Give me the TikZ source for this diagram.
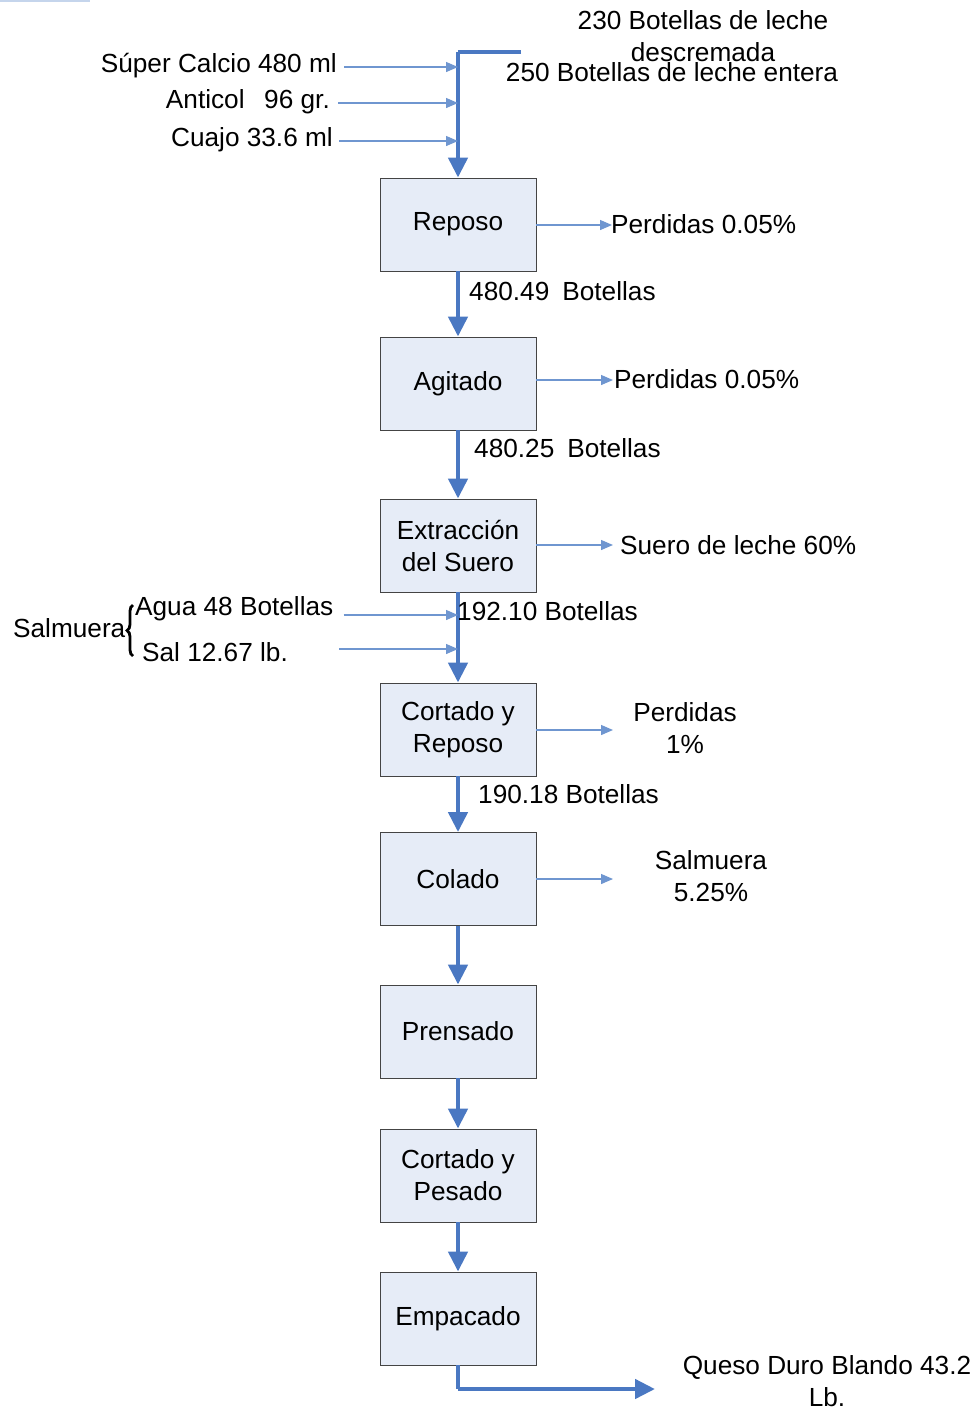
\documentclass[tikz,border=0pt]{standalone}
\usepackage{fontspec}
\setmainfont{Liberation Sans}
\usetikzlibrary{arrows.meta,decorations.pathreplacing}
\definecolor{flowblue}{HTML}{4A78C2}
\definecolor{thinblue}{HTML}{6F96D0}
\definecolor{boxfill}{HTML}{E6ECF7}
\definecolor{boxline}{HTML}{444444}
\tikzset{
  stage/.style={draw=boxline, fill=boxfill, line width=0.9pt, minimum width=156pt,
    minimum height=93pt, align=center, inner sep=2pt},
  txt/.style={inner sep=0pt, align=center},
  flow/.style={draw=flowblue, line width=4.5pt, -{Triangle[width=19pt,length=20pt]}},
  trunk/.style={draw=flowblue, line width=4.5pt},
  side/.style={draw=thinblue, line width=1.3pt, -{Triangle[width=10pt,length=12pt]}},
}
\begin{document}
\begin{tikzpicture}[x=1pt,y=-1pt,font=\fontsize{26.2}{32}\selectfont]
\useasboundingbox (0,0) rectangle (980,1409);

% faint rule at the top edge
\draw[thinblue!40, line width=2pt] (0,1) -- (90,1);

% process stages
\node[stage] (rep) at (458,224.5) {Reposo};
\node[stage] (agi) at (458,383.5) {Agitado};
\node[stage] (ext) at (458,545.5) {Extracción\\del Suero};
\node[stage] (cor) at (458,729.5) {Cortado y\\Reposo};
\node[stage] (col) at (458,879) {Colado};
\node[stage] (pre) at (458,1031.5) {Prensado};
\node[stage] (pes) at (458,1175.5) {Cortado y\\Pesado};
\node[stage] (emp) at (458,1318.5) {Empacado};

% milk supply
\node[txt] (milkA) at (703,36) {230 Botellas de leche\\descremada};
\node[txt] (milkB) at (672,72) {250 Botellas de leche entera};
\coordinate (src) at (521,52);
\coordinate (bend) at (458,52);
\draw[trunk] (src) -- (bend);
\draw[flow] (bend) -- (rep.north);

% additives
\node[txt, anchor=east] (calc) at (337,66) {Súper Calcio 480 ml};
\node[txt, anchor=east] (anti) at (330,102) {Anticol\hspace{0.75em}96 gr.};
\node[txt, anchor=east] (cuaj) at (333,140) {Cuajo 33.6 ml};
\coordinate (j1) at (458,67);
\coordinate (j2) at (458,103);
\coordinate (j3) at (458,141);
\draw[side, shorten <=7pt] (calc.east |- j1) -- (j1);
\draw[side, shorten <=8pt] (anti.east |- j2) -- (j2);
\draw[side, shorten <=6pt] (cuaj.east |- j3) -- (j3);

% main flow
\draw[flow] (rep.south) -- (agi.north);
\draw[flow] (agi.south) -- (ext.north);
\draw[flow] (ext.south) -- (cor.north);
\draw[flow] (cor.south) -- (col.north);
\draw[flow] (col.south) -- (pre.north);
\draw[flow] (pre.south) -- (pes.north);
\draw[flow] (pes.south) -- (emp.north);

% quantities along the flow
\node[txt, anchor=west] (q1) at (469,291) {480.49\hspace{0.5em}Botellas};
\node[txt, anchor=west] (q2) at (474,448) {480.25\hspace{0.5em}Botellas};
\node[txt, anchor=west] (q3) at (457,611) {192.10 Botellas};
\node[txt, anchor=west] (q4) at (478,794) {190.18 Botellas};

% outputs on the right
\node[txt, anchor=west] (out1) at (611,224) {Perdidas 0.05\%};
\node[txt, anchor=west] (out2) at (614,379) {Perdidas 0.05\%};
\node[txt, anchor=west] (out3) at (620,545) {Suero de leche 60\%};
\node[txt] (out4) at (685,728) {Perdidas\\1\%};
\node[txt] (out5) at (711,876) {Salmuera\\5.25\%};
\coordinate (e1) at (612,225);
\coordinate (e2) at (613,380);
\coordinate (e3) at (613,545);
\coordinate (e4) at (613,730);
\coordinate (e5) at (613,879);
\draw[side] (rep.east |- e1) -- (e1);
\draw[side] (agi.east |- e2) -- (e2);
\draw[side] (ext.east |- e3) -- (e3);
\draw[side] (cor.east |- e4) -- (e4);
\draw[side] (col.east |- e5) -- (e5);

% brine inputs
\node[txt, anchor=west] (salm) at (13,628) {Salmuera};
\draw[line width=2.8pt, decorate, decoration={brace, amplitude=6pt}] (133,656) -- (133,605);
\node[txt, anchor=west] (agua) at (135,609) {Agua 48 Botellas};
\node[txt, anchor=west] (sal) at (142,652) {Sal 12.67 lb.};
\coordinate (j4) at (458,615);
\coordinate (j5) at (458,649);
\draw[side, shorten <=10pt] (agua.east |- j4) -- (j4);
\draw[side, shorten <=51pt] (sal.east |- j5) -- (j5);

% final product
\node[txt] (prod) at (827,1381) {Queso Duro Blando 43.2\\Lb.};
\coordinate (corner) at (458,1389);
\coordinate (tip) at (655,1389);
\draw[trunk] (emp.south) -- (corner);
\draw[flow] (corner) -- (tip);
\end{tikzpicture}
\end{document}
